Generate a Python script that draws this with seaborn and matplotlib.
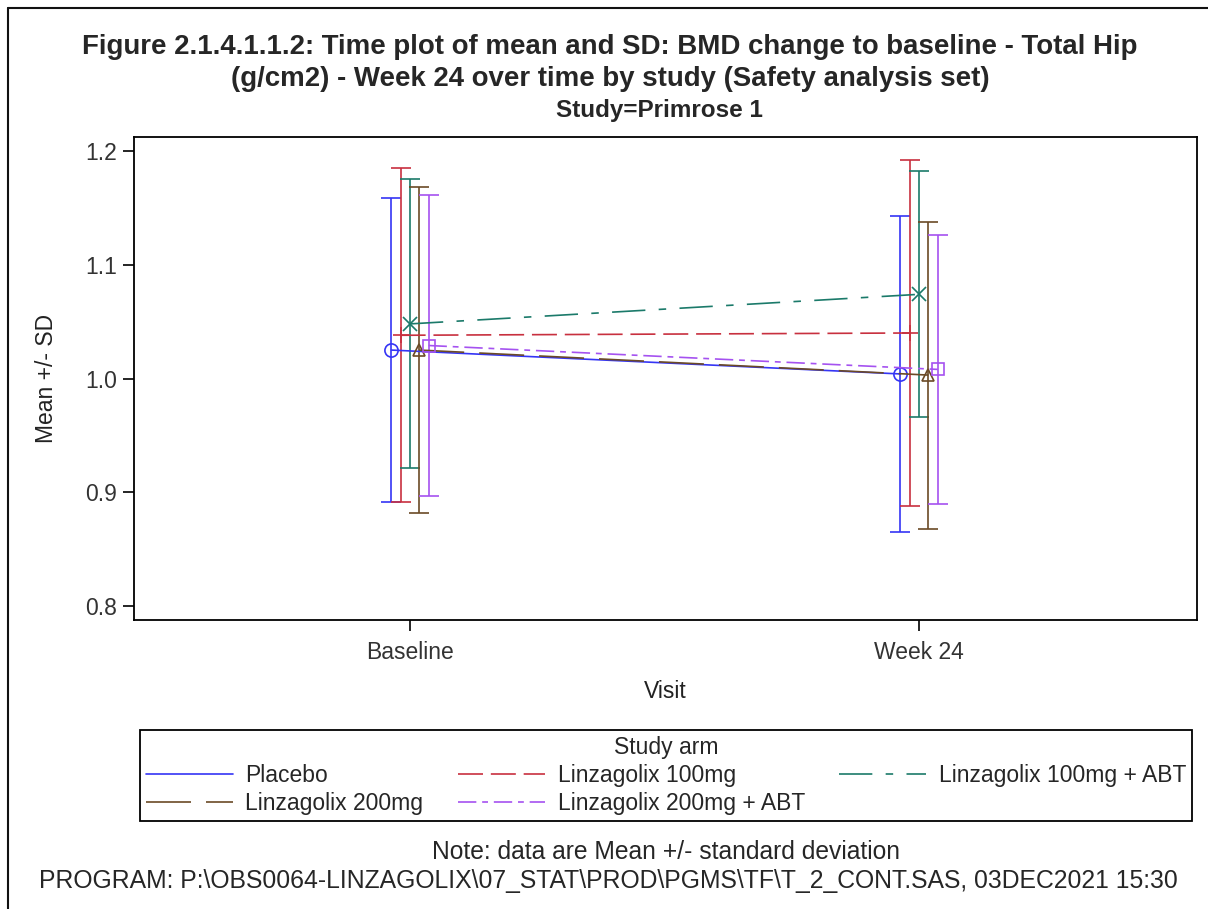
import numpy as np
import pandas as pd
import matplotlib
matplotlib.use("Agg")
import matplotlib.pyplot as plt
import seaborn as sns
from matplotlib.lines import Line2D

# ---------------- data ----------------
visits = ["Baseline", "Week 24"]
arms = ["Placebo", "Linzagolix 100mg", "Linzagolix 100mg + ABT",
        "Linzagolix 200mg", "Linzagolix 200mg + ABT"]
mean_baseline = [1.025, 1.038, 1.048, 1.025, 1.029]
sd_baseline = [0.134, 0.147, 0.127, 0.143, 0.132]
mean_week24 = [1.004, 1.040, 1.074, 1.003, 1.008]
sd_week24 = [0.139, 0.152, 0.108, 0.135, 0.118]
y_ticks = [0.8, 0.9, 1.0, 1.1, 1.2]

title_text = ("Figure 2.1.4.1.1.2: Time plot of mean and SD: BMD change to baseline - Total Hip\n"
              "(g/cm2) - Week 24 over time by study (Safety analysis set)")
subtitle_text = "Study=Primrose 1"
note_text = "Note: data are Mean +/- standard deviation"
program_text = "PROGRAM: P:\\OBS0064-LINZAGOLIX\\07_STAT\\PROD\\PGMS\\TF\\T_2_CONT.SAS, 03DEC2021 15:30"

# ---------------- style ----------------
colors = {
    "Placebo": "#3535f5",
    "Linzagolix 100mg": "#c8303f",
    "Linzagolix 100mg + ABT": "#1b7a6a",
    "Linzagolix 200mg": "#6b4a26",
    "Linzagolix 200mg + ABT": "#a552f0",
}
dashes = {
    "Placebo": "",
    "Linzagolix 100mg": (15, 4.7),
    "Linzagolix 100mg + ABT": (20, 8, 4.5, 8),
    "Linzagolix 200mg": (27, 9),
    "Linzagolix 200mg + ABT": (11, 3.5, 3.5, 3.5),
}
markers = {
    "Placebo": "o",
    "Linzagolix 100mg": "+",
    "Linzagolix 100mg + ABT": "x",
    "Linzagolix 200mg": "^",
    "Linzagolix 200mg + ABT": "s",
}
msizes = {"Placebo": 9.5, "Linzagolix 100mg": 11, "Linzagolix 100mg + ABT": 9.5,
          "Linzagolix 200mg": 9, "Linzagolix 200mg + ABT": 8.5}
dodge_step = 0.0183
FS = 16.5

sns.set_theme(style="white")
plt.rcParams["font.family"] = ["Liberation Sans", "DejaVu Sans"]

rows = []
for i, arm in enumerate(arms):
    for v, (m, s) in enumerate(zip([mean_baseline[i], mean_week24[i]], [sd_baseline[i], sd_week24[i]])):
        rows.append({"arm": arm, "visit": visits[v],
                     "x": v + (i - 2) * dodge_step, "mean": m, "sd": s})
df = pd.DataFrame(rows)

fig = plt.figure(figsize=(12.08, 9.09), dpi=100)
ax = fig.add_axes([134 / 1208, 1 - 620 / 909, (1197 - 134) / 1208, (620 - 137) / 909])

# error bars
for arm in arms:
    d = df[df["arm"] == arm]
    ax.errorbar(d["x"], d["mean"], yerr=d["sd"], fmt="none", ecolor=colors[arm],
                elinewidth=1.2, capsize=7.2, capthick=1.2, zorder=2)

n_before = len(ax.get_lines())
sns.lineplot(data=df, x="x", y="mean", hue="arm", style="arm", hue_order=arms,
             style_order=arms, palette=colors, dashes=dashes, markers=False,
             linewidth=1.2, legend=False, ax=ax, sort=True, zorder=3)

for line, arm in zip(ax.get_lines()[n_before:], arms):
    line.set_marker(markers[arm])
    line.set_markerfacecolor("none")
    line.set_markeredgecolor(colors[arm])
    line.set_markeredgewidth(1.2)
    line.set_markersize(msizes[arm])

ax.set_xlim(-0.542, 1.546)
ax.set_ylim(0.7877, 1.2123)
ax.set_xticks(range(len(visits)))
ax.set_xticklabels(visits)
ax.set_yticks(y_ticks)
ax.set_yticklabels([f"{t:.1f}" for t in y_ticks])
ax.tick_params(axis="both", which="major", direction="out", length=8, width=1.2,
               color="black", labelsize=FS, labelcolor="#333333", left=True, bottom=True)
ax.tick_params(axis="y", pad=4)
ax.tick_params(axis="x", pad=7)
for sp in ax.spines.values():
    sp.set_color("black")
    sp.set_linewidth(1.3)
ax.set_xlabel("Visit", fontsize=FS, color="#222222", labelpad=12)
ax.set_ylabel("Mean +/- SD", fontsize=FS, color="#222222", labelpad=20)

# titles
fig.text(0.505, 1 - 63 / 909, title_text, ha="center", va="center",
         fontsize=19.9, fontweight="bold", linespacing=1.3)
fig.text(0.546, 1 - 111 / 909, subtitle_text, ha="center", va="center",
         fontsize=17.5, fontweight="bold")

# legend
handles = []
for a in arms:
    h = Line2D([0], [0], color=colors[a], lw=1.2)
    if dashes[a]:
        h.set_dashes(dashes[a])
    handles.append(h)
order = [0, 3, 1, 4, 2]
leg = fig.legend([handles[i] for i in order], [arms[i] for i in order],
                 ncol=3, title="Study arm", title_fontsize=FS, fontsize=FS,
                 loc="upper left",
                 bbox_to_anchor=(140 / 1208, 1 - 823 / 909, (1192 - 140) / 1208, (823 - 730) / 909),
                 mode="expand", frameon=True, fancybox=False, framealpha=1,
                 edgecolor="black", handlelength=3.8, handletextpad=0.55,
                 labelspacing=0.2, borderpad=0.25, borderaxespad=0, columnspacing=1.5)
leg.get_frame().set_linewidth(1.3)
leg._legend_box.sep = 4

# footnotes
fig.text(666 / 1208, 1 - 852 / 909, note_text, ha="center", va="center", fontsize=17.7)
fig.text(608.5 / 1208, 1 - 881 / 909, program_text, ha="center", va="center", fontsize=17.8)

# outer border (only left and top edges are visible)
fig.add_artist(Line2D([8 / 1208, 8 / 1208], [0, 1 - 8 / 909], transform=fig.transFigure,
                      color="#111111", lw=1.5))
fig.add_artist(Line2D([8 / 1208, 1], [1 - 8 / 909, 1 - 8 / 909], transform=fig.transFigure,
                      color="#111111", lw=1.5))

fig.savefig("out.png", dpi=100)
